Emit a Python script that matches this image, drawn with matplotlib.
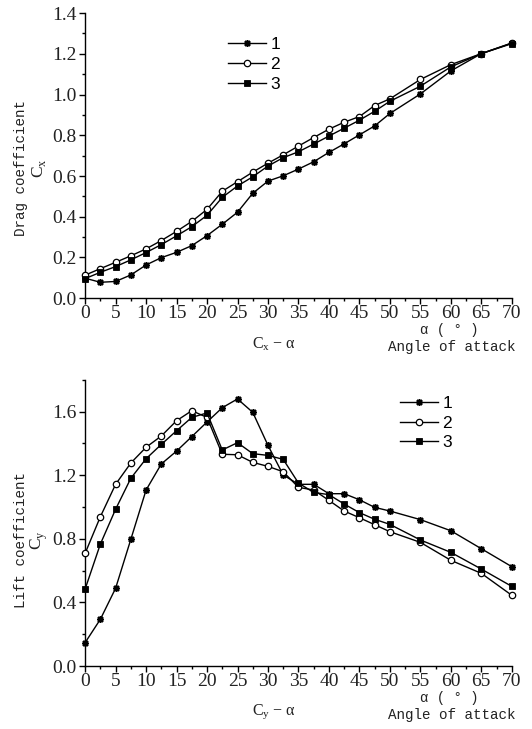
import matplotlib
matplotlib.use("Agg")
import matplotlib.pyplot as plt
from matplotlib.ticker import MultipleLocator

alpha = [0, 2.5, 5, 7.5, 10, 12.5, 15, 17.5, 20, 22.5, 25, 27.5, 30, 32.5, 35,
         37.5, 40, 42.5, 45, 47.5, 50, 55, 60, 65, 70]

cx_1 = [0.098, 0.078, 0.082, 0.114, 0.163, 0.199, 0.225, 0.258, 0.307, 0.363,
        0.422, 0.515, 0.575, 0.601, 0.634, 0.670, 0.716, 0.758, 0.802, 0.846,
        0.907, 1.003, 1.116, 1.201, 1.253]
cx_2 = [0.113, 0.145, 0.176, 0.208, 0.242, 0.283, 0.328, 0.377, 0.436, 0.525,
        0.572, 0.619, 0.663, 0.704, 0.747, 0.789, 0.830, 0.864, 0.892, 0.946,
        0.979, 1.074, 1.147, 1.201, 1.253]
cx_3 = [0.096, 0.127, 0.155, 0.188, 0.224, 0.263, 0.306, 0.351, 0.407, 0.495,
        0.551, 0.596, 0.649, 0.690, 0.719, 0.757, 0.796, 0.835, 0.874, 0.918,
        0.967, 1.041, 1.136, 1.201, 1.250]

cy_1 = [0.147, 0.294, 0.489, 0.797, 1.107, 1.271, 1.352, 1.443, 1.535, 1.625,
        1.680, 1.596, 1.388, 1.202, 1.143, 1.143, 1.084, 1.084, 1.046, 0.998,
        0.975, 0.921, 0.851, 0.738, 0.625]
cy_2 = [0.709, 0.939, 1.143, 1.277, 1.376, 1.447, 1.543, 1.606, 1.564, 1.332,
        1.329, 1.281, 1.256, 1.222, 1.124, 1.107, 1.042, 0.975, 0.933, 0.889,
        0.845, 0.778, 0.665, 0.583, 0.445]
cy_3 = [0.484, 0.767, 0.986, 1.181, 1.304, 1.394, 1.480, 1.564, 1.592, 1.359,
        1.405, 1.336, 1.325, 1.300, 1.151, 1.092, 1.078, 1.019, 0.965, 0.923,
        0.891, 0.793, 0.715, 0.610, 0.501]

series_labels = ["1", "2", "3"]
x_ticks = [0, 5, 10, 15, 20, 25, 30, 35, 40, 45, 50, 55, 60, 65, 70]
cx_ticks = [0.0, 0.2, 0.4, 0.6, 0.8, 1.0, 1.2, 1.4]
cy_ticks = [0.0, 0.4, 0.8, 1.2, 1.6]

MONO = "Liberation Mono"
SERIF = "Liberation Serif"
SANS = "Liberation Sans"
TXT = "#222222"

fig = plt.figure(figsize=(5.32, 7.29), dpi=100)
ax1 = fig.add_axes([0.160, 0.591, 0.802, 0.391])
ax2 = fig.add_axes([0.160, 0.0864, 0.802, 0.3925])

styles = [
    dict(marker=(8, 2, 0), markersize=5.0, markeredgewidth=1.1,
         markerfacecolor="black", markeredgecolor="black"),
    dict(marker="o", markersize=4.6, markeredgewidth=0.9,
         markerfacecolor="white", markeredgecolor="black"),
    dict(marker="s", markersize=4.4, markeredgewidth=0.6,
         markerfacecolor="black", markeredgecolor="black"),
]


def style_axes(ax, ymax, yticks, yminor):
    ax.set_xlim(0, 70)
    for s in ["top", "right"]:
        ax.spines[s].set_visible(False)
    for s in ["left", "bottom"]:
        ax.spines[s].set_linewidth(1.0)
    ax.set_xticks(x_ticks)
    ax.set_xticklabels([str(v) for v in x_ticks], fontfamily=SERIF)
    ax.xaxis.set_minor_locator(MultipleLocator(2.5))
    ax.set_yticks(yticks)
    ax.set_yticklabels(["%.1f" % v for v in yticks], fontfamily=SERIF)
    ax.yaxis.set_minor_locator(MultipleLocator(yminor))
    ax.set_ylim(0, ymax)
    ax.tick_params(axis="both", which="major", direction="out", length=4,
                   width=1.0, colors="black", labelcolor=TXT, labelsize=14,
                   pad=2)
    ax.tick_params(axis="x", which="major", pad=1)
    ax.tick_params(axis="both", which="minor", direction="out", length=2.5,
                   width=1.0)


for ax, data in [(ax1, [cx_1, cx_2, cx_3]), (ax2, [cy_1, cy_2, cy_3])]:
    for vals, st, lab in zip(data, styles, series_labels):
        ax.plot(alpha, vals, color="black", linewidth=1.0, label=lab,
                clip_on=False, zorder=3, **st)

style_axes(ax1, 1.4, cx_ticks, 0.1)
style_axes(ax2, 1.8, cy_ticks, 0.2)

leg_kw = dict(frameon=False, loc="upper left", numpoints=1,
              handlelength=2.2, handletextpad=0.25, labelspacing=0.27,
              borderpad=0, borderaxespad=0,
              prop={"family": SANS, "size": 12.5})
ax1.legend(bbox_to_anchor=(0.335, 0.917), **leg_kw)
ax2.legend(bbox_to_anchor=(0.738, 0.945), **leg_kw)

# Axis titles (y)
fig.text(21 / 532, 1 - 168 / 729, "Drag coefficient", rotation=90,
         ha="center", va="center", family=MONO, fontsize=10.3, color=TXT)
fig.text(39 / 532, 1 - 168 / 729, r"C$_\mathregular{x}$", rotation=90,
         ha="center", va="center", family=SERIF, fontsize=12.5, color=TXT)
fig.text(21 / 532, 1 - 540 / 729, "Lift coefficient", rotation=90,
         ha="center", va="center", family=MONO, fontsize=10.3, color=TXT)
fig.text(39 / 532, 1 - 540 / 729, r"C$_\mathregular{y}$", rotation=90,
         ha="center", va="center", family=SERIF, fontsize=12.5, color=TXT)

# x-axis annotations (pixel offsets below each axis' bottom spine)
for axis_bottom, sub in [(298, "x"), (666, "y")]:
    fig.text(449 / 532, 1 - (axis_bottom + 32) / 729, "α ( ° )",
             ha="center", va="center", family=MONO, fontsize=10,
             color=TXT)
    fig.text(452 / 532, 1 - (axis_bottom + 49) / 729, "Angle of attack",
             ha="center", va="center", family=MONO, fontsize=10.3, color=TXT)
    fig.text(274 / 532, 1 - (axis_bottom + 46) / 729,
             r"C$_\mathregular{%s}$ − α" % sub,
             ha="center", va="center", family=SERIF,
             fontsize=11.5, color=TXT)

fig.savefig("out.png", dpi=100, facecolor="white")
